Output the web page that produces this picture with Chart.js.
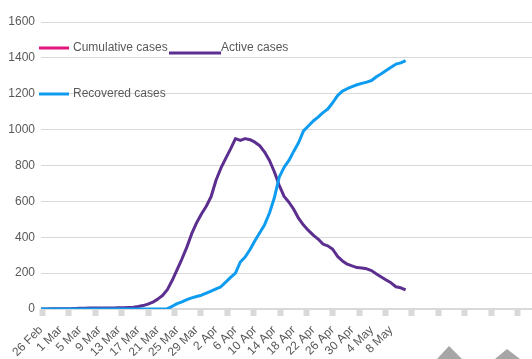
<!DOCTYPE html>
<html>
<head>
<meta charset="utf-8">
<script src="https://cdn.jsdelivr.net/npm/chart.js@4/dist/chart.umd.min.js"></script>
<style>
  html, body { margin: 0; padding: 0; background: #ffffff; }
  #wrap { width: 532px; height: 359px; position: relative; }
</style>
</head>
<body>
<div id="wrap"><canvas id="chart"></canvas></div>
<script>
// Date labels, one every four days starting 26 Feb
const tickLabels = ['26 Feb', '1 Mar', '5 Mar', '9 Mar', '13 Mar', '17 Mar', '21 Mar', '25 Mar',
  '29 Mar', '2 Apr', '6 Apr', '10 Apr', '14 Apr', '18 Apr', '22 Apr', '26 Apr', '30 Apr',
  '4 May', '8 May'];

// Daily active cases, 26 Feb .. 11 May
const activeCases = [
  0, 0, 1, 1, 1, 1, 2, 3, 4, 4, 5, 5, 5, 5, 5, 6,
  7, 7, 9, 10, 14, 19, 27, 38, 55, 75,
  108, 160, 220, 280, 345, 420, 480, 530, 573, 627,
  718, 785, 840, 893, 950, 940, 950, 944, 930, 910,
  875, 828, 765, 690, 628, 595, 555, 505, 468, 438,
  412, 390, 362, 352, 333, 293, 268, 250, 240, 231,
  228, 224, 214, 195, 178, 162, 146, 124, 118, 106
];

// Daily recovered cases, 26 Feb .. 11 May
const recoveredCases = [
  0, 0, 0, 0, 0, 0, 0, 0, 0, 0, 0, 0, 0, 0, 0, 0,
  0, 0, 0, 0, 0, 0, 0, 0, 0, 0,
  2, 15, 30, 40, 52, 62, 70, 77, 88, 100,
  112, 124, 150, 176, 200, 262, 290, 332, 380, 425,
  470, 535, 620, 735, 790, 828, 880, 928, 993, 1020,
  1048, 1070, 1095, 1115, 1150, 1190, 1215, 1228, 1240, 1250,
  1258, 1265, 1274, 1295, 1312, 1330, 1348, 1365, 1372, 1385
];

// No cumulative figures are plotted; the series only shows in the key
const cumulativeCases = [];

const yTicks = { min: 0, max: 1600, step: 200 };

const toPoints = arr => arr.map((v, i) => ({ x: i, y: v }));

const TEXT = '#595959';
const GRID = '#d9d9d9';
const FONT = { family: '"Liberation Sans", Arial, sans-serif', size: 12 };

// Key drawn inside the plot, laid out in two rows
const seriesKey = {
  id: 'seriesKey',
  afterDatasetsDraw(chart, args, opts) {
    const ctx = chart.ctx;
    chart.data.datasets.forEach((ds, i) => {
      const it = opts.items[i];
      if (!it) return;
      ctx.save();
      ctx.strokeStyle = ds.borderColor;
      ctx.lineWidth = 3;
      ctx.lineCap = 'butt';
      ctx.beginPath();
      ctx.moveTo(it.x0, it.ly);
      ctx.lineTo(it.x1, it.ly);
      ctx.stroke();
      ctx.fillStyle = TEXT;
      ctx.font = FONT.size + 'px ' + FONT.family;
      ctx.textBaseline = 'middle';
      ctx.textAlign = 'left';
      ctx.fillText(ds.label, it.tx, it.ty);
      ctx.restore();
    });
  },
  afterDraw(chart, args, opts) {
    // grey corner markers at the lower edge
    const ctx = chart.ctx;
    ctx.save();
    ctx.fillStyle = opts.markColor;
    opts.marks.forEach(m => {
      ctx.beginPath();
      ctx.moveTo(m[0], m[1]);
      ctx.lineTo(m[2], m[3]);
      ctx.lineTo(m[4], m[5]);
      ctx.closePath();
      ctx.fill();
    });
    ctx.restore();
  }
};

new Chart(document.getElementById('chart'), {
  type: 'line',
  data: {
    datasets: [
      {
        label: 'Cumulative cases',
        data: toPoints(cumulativeCases),
        borderColor: '#e3167f',
        backgroundColor: '#e3167f',
        borderWidth: 3,
        pointRadius: 0,
        order: 3
      },
      {
        label: 'Active cases',
        data: toPoints(activeCases),
        borderColor: '#5b2e8f',
        backgroundColor: '#5b2e8f',
        borderWidth: 3,
        pointRadius: 0,
        tension: 0,
        borderJoinStyle: 'round',
        order: 2
      },
      {
        label: 'Recovered cases',
        data: toPoints(recoveredCases),
        borderColor: '#0e9cf1',
        backgroundColor: '#0e9cf1',
        borderWidth: 3,
        pointRadius: 0,
        tension: 0,
        borderJoinStyle: 'round',
        order: 1
      }
    ]
  },
  options: {
    responsive: true,
    maintainAspectRatio: false,
    animation: false,
    layout: { padding: { left: 0, right: 0, top: 22, bottom: 0 } },
    plugins: {
      legend: { display: false },
      tooltip: { enabled: false },
      seriesKey: {
        items: [
          { x0: 39, x1: 69, ly: 48, tx: 73, ty: 48 },
          { x0: 169, x1: 221, ly: 53, tx: 221, ty: 48 },
          { x0: 39, x1: 69, ly: 94, tx: 73, ty: 94 }
        ],
        markColor: '#a6a6a6',
        marks: [
          [437, 359, 449, 346, 462, 359],
          [495, 359, 507, 349, 520, 359]
        ]
      }
    },
    scales: {
      x: {
        type: 'linear',
        position: 'bottom',
        weight: 1,
        min: 0,
        max: 101,
        grid: { display: false, drawTicks: false },
        border: { display: false },
        ticks: {
          stepSize: 4,
          includeBounds: false,
          autoSkip: false,
          minRotation: 45,
          maxRotation: 45,
          padding: 7,
          color: TEXT,
          font: FONT,
          callback: (value) => {
            const i = Math.round(value) / 4;
            return Number.isInteger(i) && i < tickLabels.length ? tickLabels[i] : '';
          }
        },
        afterFit: (scale) => {
          scale.height = 43;
          scale.paddingRight = 0;
        }
      },
      marks: {
        type: 'linear',
        position: 'bottom',
        weight: 0,
        min: -0.06,
        max: 18.55,
        grid: {
          display: true,
          drawOnChartArea: false,
          drawTicks: true,
          tickLength: 7,
          tickWidth: 6,
          tickColor: GRID
        },
        border: { display: false },
        ticks: { stepSize: 1, includeBounds: false, display: false },
        afterFit: (scale) => { scale.paddingRight = 0; scale.paddingLeft = 0; }
      },
      y: {
        position: 'left',
        min: yTicks.min,
        max: yTicks.max,
        grid: {
          color: GRID,
          lineWidth: (c) => (c.tick && c.tick.value === 0 ? 2 : 1),
          drawTicks: false
        },
        border: { display: false },
        ticks: {
          stepSize: yTicks.step,
          padding: 6,
          color: TEXT,
          font: FONT,
          callback: (value) => String(value)
        },
        afterFit: (scale) => { scale.width = 41; }
      }
    }
  },
  plugins: [seriesKey]
});
</script>
</body>
</html>
